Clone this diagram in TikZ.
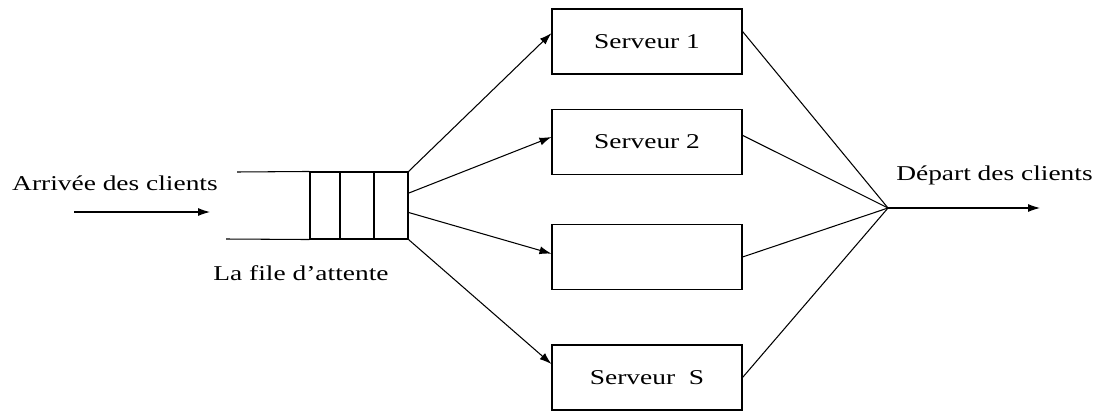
\documentclass[tikz,border=0pt]{standalone}
\usepackage{fontspec}
\setmainfont{Liberation Serif}[FakeStretch=1.3]
\usetikzlibrary{arrows.meta}
\begin{document}
\begin{tikzpicture}[font=\fontsize{12}{14}\selectfont,
  server/.style={draw,line width=0.6pt,minimum width=3.8cm,minimum height=1.3cm,inner sep=0pt},
  flow/.style={-{Latex[length=2.4mm,width=1.6mm]},line width=0.6pt}]
  \useasboundingbox (0,0) rectangle (21.98,8.28);
  \node[draw,line width=0.6pt,minimum width=1.96cm,minimum height=1.34cm,inner sep=0pt] (file) at (7.18,4.17) {};
  \foreach \x in {6.2,6.8,7.48}
    \draw[line width=0.6pt] (\x,4.84) -- (\x,3.50);
  \draw[line width=0.6pt] (4.74,4.84) -- (file.north west);
  \draw[line width=0.6pt] (4.52,3.50) -- (file.south west);

  \node[server] (s1) at (12.94,7.45) {Serveur 1};
  \node[server] (s2) at (12.94,5.44) {Serveur 2};
  \node[server] (s3) at (12.94,3.14) {};
  \node[server] (s4) at (12.94,0.73) {Serveur~~S};

  \node (arrivee) at (2.3,4.62)   {Arrivée des clients};
  \node (attente) at (6.02,2.82)  {La file d’attente};
  \node (depart)  at (19.89,4.78) {Départ des clients};

  \coordinate (in)  at (1.48,4.04);
  \coordinate (end) at (4.2,4.04);
  \coordinate (dep) at (17.76,4.12);
  \coordinate (out) at (20.8,4.12);

  \draw[flow] (in) -- (end);
  \draw[flow] (file.north east) -- (s1.175);
  \draw[flow] (file.14)         -- (s2.177);
  \draw[flow] (file.-8)         -- (s3.178);
  \draw[flow] (file.south east) -- (s4.172);

  \draw[line width=0.6pt] (s1.6) -- (dep);
  \draw[line width=0.6pt] (s2.4) -- (dep);
  \draw[line width=0.6pt] (s3.east) -- (dep);
  \draw[line width=0.6pt] (s4.east) -- (dep);
  \draw[flow] (dep) -- (out);
\end{tikzpicture}
\end{document}
